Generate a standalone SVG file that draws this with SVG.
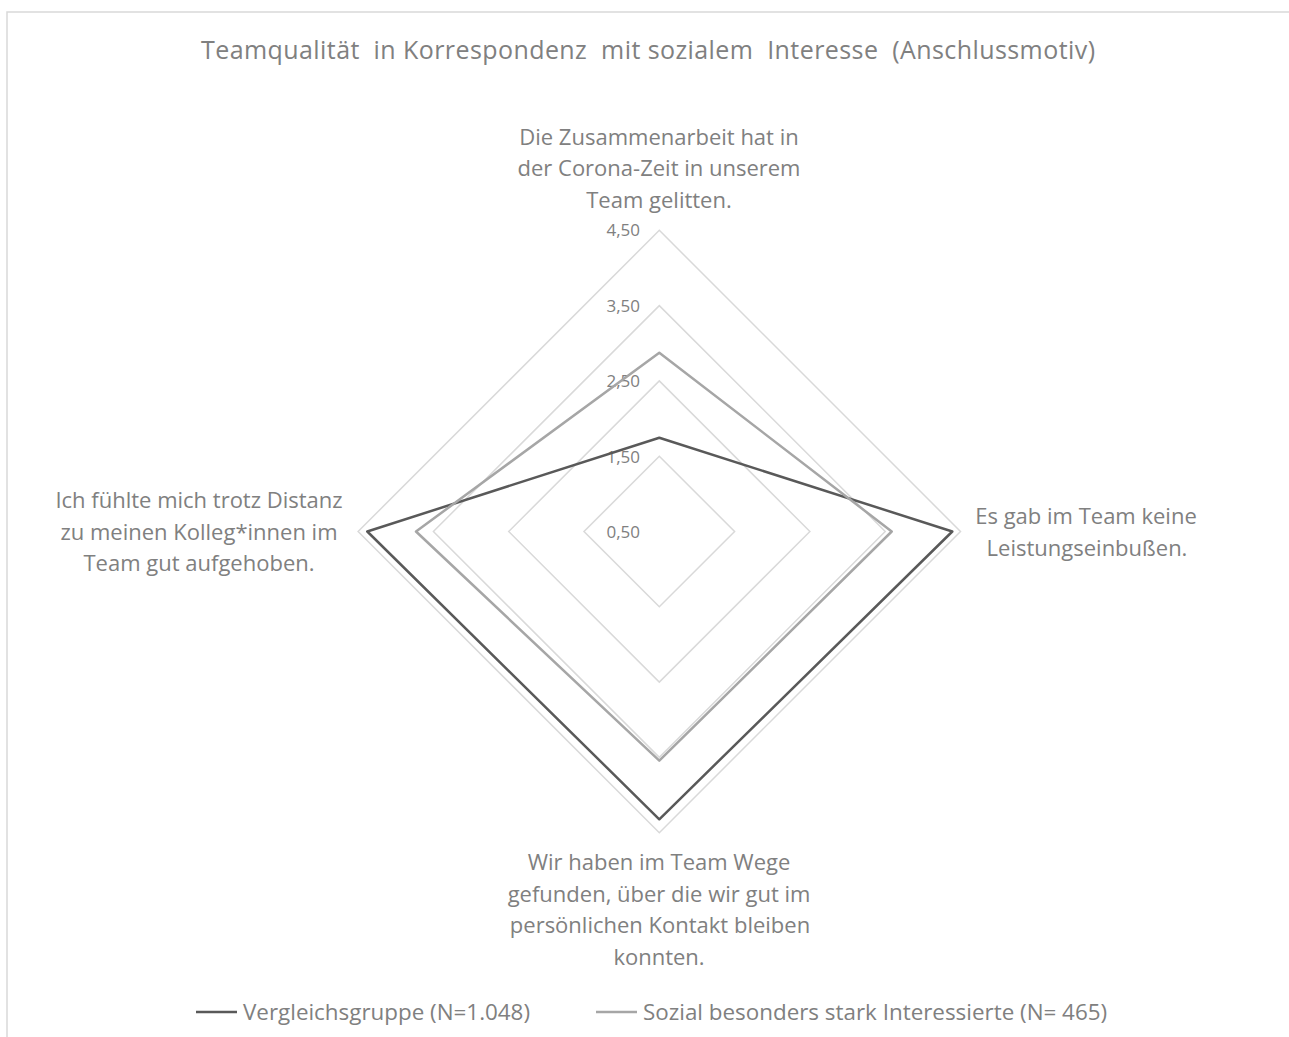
<svg xmlns="http://www.w3.org/2000/svg" width="1289" height="1037" viewBox="0 0 1289 1037">
<style>
text{font-family:"Open Sans","Liberation Sans",sans-serif;fill:#808080}
.t{font-size:25px;white-space:pre}
.c{font-size:22px;text-anchor:middle}
.a{font-size:17px;text-anchor:end}
.l{font-size:22.4px}
.grid{fill:none;stroke:#d9d9d9;stroke-width:1.5}
.s1{fill:none;stroke:#595959;stroke-width:2.5;stroke-linejoin:round}
.s2{fill:none;stroke:#a6a6a6;stroke-width:2.5;stroke-linejoin:round}
</style>
<rect width="1289" height="1037" fill="#fff"/>
<path d="M7 1037V12H1289" fill="none" stroke="#d9d9d9" stroke-width="1.5"/>
<g id="title"><text class="t" x="201" y="59" textLength="894">Teamqualität  in Korrespondenz  mit sozialem  Interesse  (Anschlussmotiv)</text></g>
<g id="grid">
<polygon class="grid" points="659.3,456.2 734.6,531.5 659.3,606.8 584,531.5"/>
<polygon class="grid" points="659.3,380.9 809.9,531.5 659.3,682.1 508.7,531.5"/>
<polygon class="grid" points="659.3,305.6 885.2,531.5 659.3,757.4 433.4,531.5"/>
<polygon class="grid" points="659.3,230.3 960.5,531.5 659.3,832.7 358.1,531.5"/>
</g>
<g id="axis-labels">
<text class="a" x="640" y="236">4,50</text>
<text class="a" x="640" y="312">3,50</text>
<text class="a" x="640" y="387">2,50</text>
<text class="a" x="640" y="463">1,50</text>
<text class="a" x="640" y="538">0,50</text>
</g>
<g id="connectors">
<polygon id="series-vergleichsgruppe" class="s1" points="659.3,437.7 952.3,531.5 659.3,819.3 367.3,531.5"/>
<polygon id="series-sozial" class="s2" points="659.3,352.7 891.7,531.5 659.3,760.7 416,531.5"/>
</g>
<g id="node-top">
<text class="c" x="659" y="145">Die Zusammenarbeit hat in</text>
<text class="c" x="659" y="176">der Corona-Zeit in unserem</text>
<text class="c" x="659" y="208">Team gelitten.</text>
</g>
<g id="node-right">
<text class="c" x="1086" y="524">Es gab im Team keine</text>
<text class="c" x="1087" y="556">Leistungseinbußen.</text>
</g>
<g id="node-bottom">
<text class="c" x="659" y="870">Wir haben im Team Wege</text>
<text class="c" x="659" y="902">gefunden, über die wir gut im</text>
<text class="c" x="660" y="933">persönlichen Kontakt bleiben</text>
<text class="c" x="659" y="965">konnten.</text>
</g>
<g id="node-left">
<text class="c" x="199" y="508">Ich fühlte mich trotz Distanz</text>
<text class="c" x="199" y="540">zu meinen Kolleg*innen im</text>
<text class="c" x="199" y="571">Team gut aufgehoben.</text>
</g>
<g id="legend">
<line x1="196" y1="1012" x2="237" y2="1012" stroke="#595959" stroke-width="2.5"/>
<text class="l" x="243" y="1020">Vergleichsgruppe (N=1.048)</text>
<line x1="596" y1="1012" x2="637" y2="1012" stroke="#a6a6a6" stroke-width="2.5"/>
<text class="l" x="643" y="1020">Sozial besonders stark Interessierte (N= 465)</text>
</g>
</svg>
